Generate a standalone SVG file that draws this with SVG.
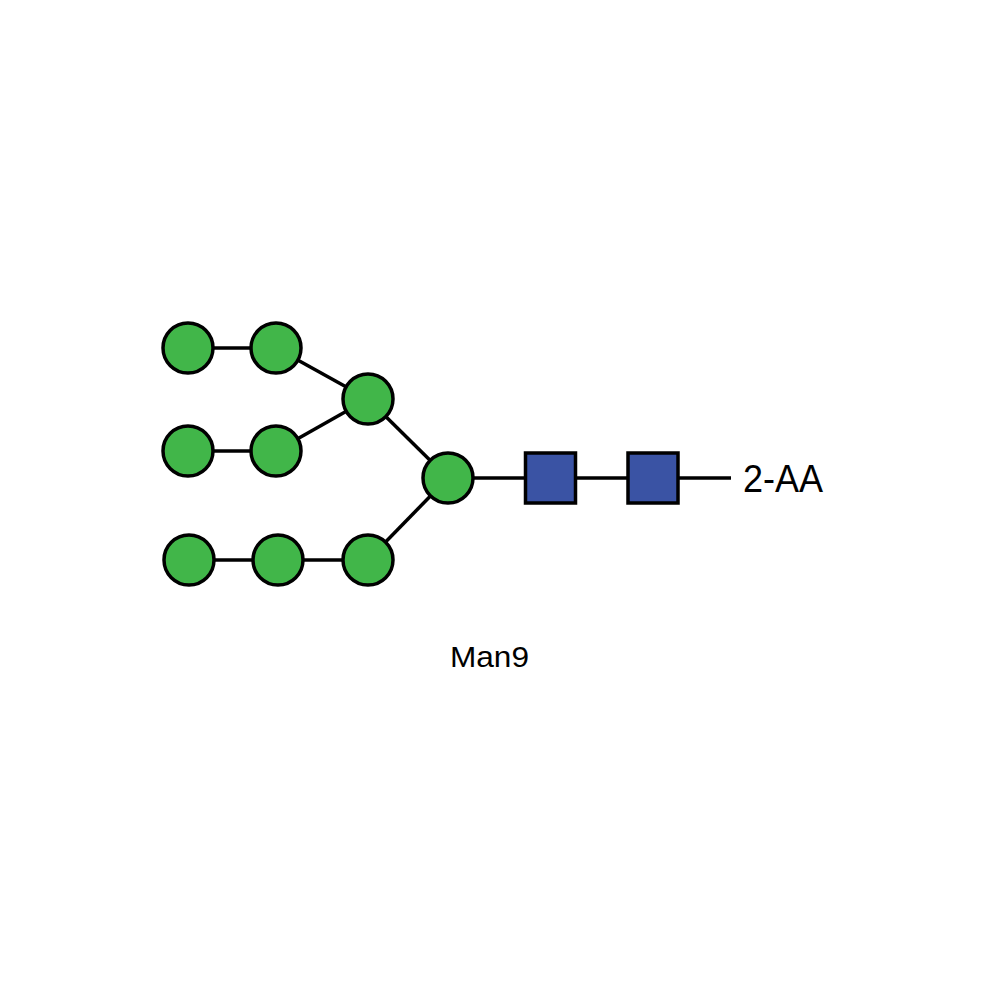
<svg xmlns="http://www.w3.org/2000/svg" width="1000" height="1000" viewBox="0 0 1000 1000">
<style>
.man{fill:#41b649;stroke:#000;stroke-width:3.5}
.glc{fill:#3a53a4;stroke:#000;stroke-width:3.5}
.bond{stroke:#000;stroke-width:3.5;fill:none}
.lbl{font-family:"Liberation Sans",Arial,sans-serif;fill:#000}
</style>
<rect width="1000" height="1000" fill="#fff"/>
<g id="connectors">
<line class="bond" x1="188" y1="348" x2="276" y2="348"/>
<line class="bond" x1="276" y1="348" x2="368" y2="399"/>
<line class="bond" x1="188" y1="451" x2="276" y2="451"/>
<line class="bond" x1="276" y1="451" x2="368" y2="399"/>
<line class="bond" x1="368" y1="399" x2="448" y2="478"/>
<line class="bond" x1="188" y1="560" x2="368" y2="560"/>
<line class="bond" x1="368" y1="560" x2="448" y2="478"/>
<line class="bond" x1="448" y1="478" x2="731" y2="478"/>
</g>
<g id="m1"><circle class="man" cx="188" cy="348" r="25"/></g>
<g id="m2"><circle class="man" cx="276" cy="348" r="25"/></g>
<g id="m3"><circle class="man" cx="368" cy="399" r="25"/></g>
<g id="m4"><circle class="man" cx="188" cy="451" r="25"/></g>
<g id="m5"><circle class="man" cx="276" cy="451" r="25"/></g>
<g id="m6"><circle class="man" cx="189" cy="560" r="25"/></g>
<g id="m7"><circle class="man" cx="278" cy="560" r="25"/></g>
<g id="m8"><circle class="man" cx="368" cy="560" r="25"/></g>
<g id="m9"><circle class="man" cx="448" cy="478" r="25"/></g>
<g id="g1"><rect class="glc" x="525.5" y="453" width="50" height="50"/></g>
<g id="g2"><rect class="glc" x="628" y="453" width="50" height="50"/></g>
<g id="label-2aa"><text class="lbl" x="743" y="492" font-size="38" textLength="80" lengthAdjust="spacingAndGlyphs">2-AA</text></g>
<g id="label-man9"><text class="lbl" x="450" y="667" font-size="30" textLength="79" lengthAdjust="spacingAndGlyphs">Man9</text></g>
</svg>
